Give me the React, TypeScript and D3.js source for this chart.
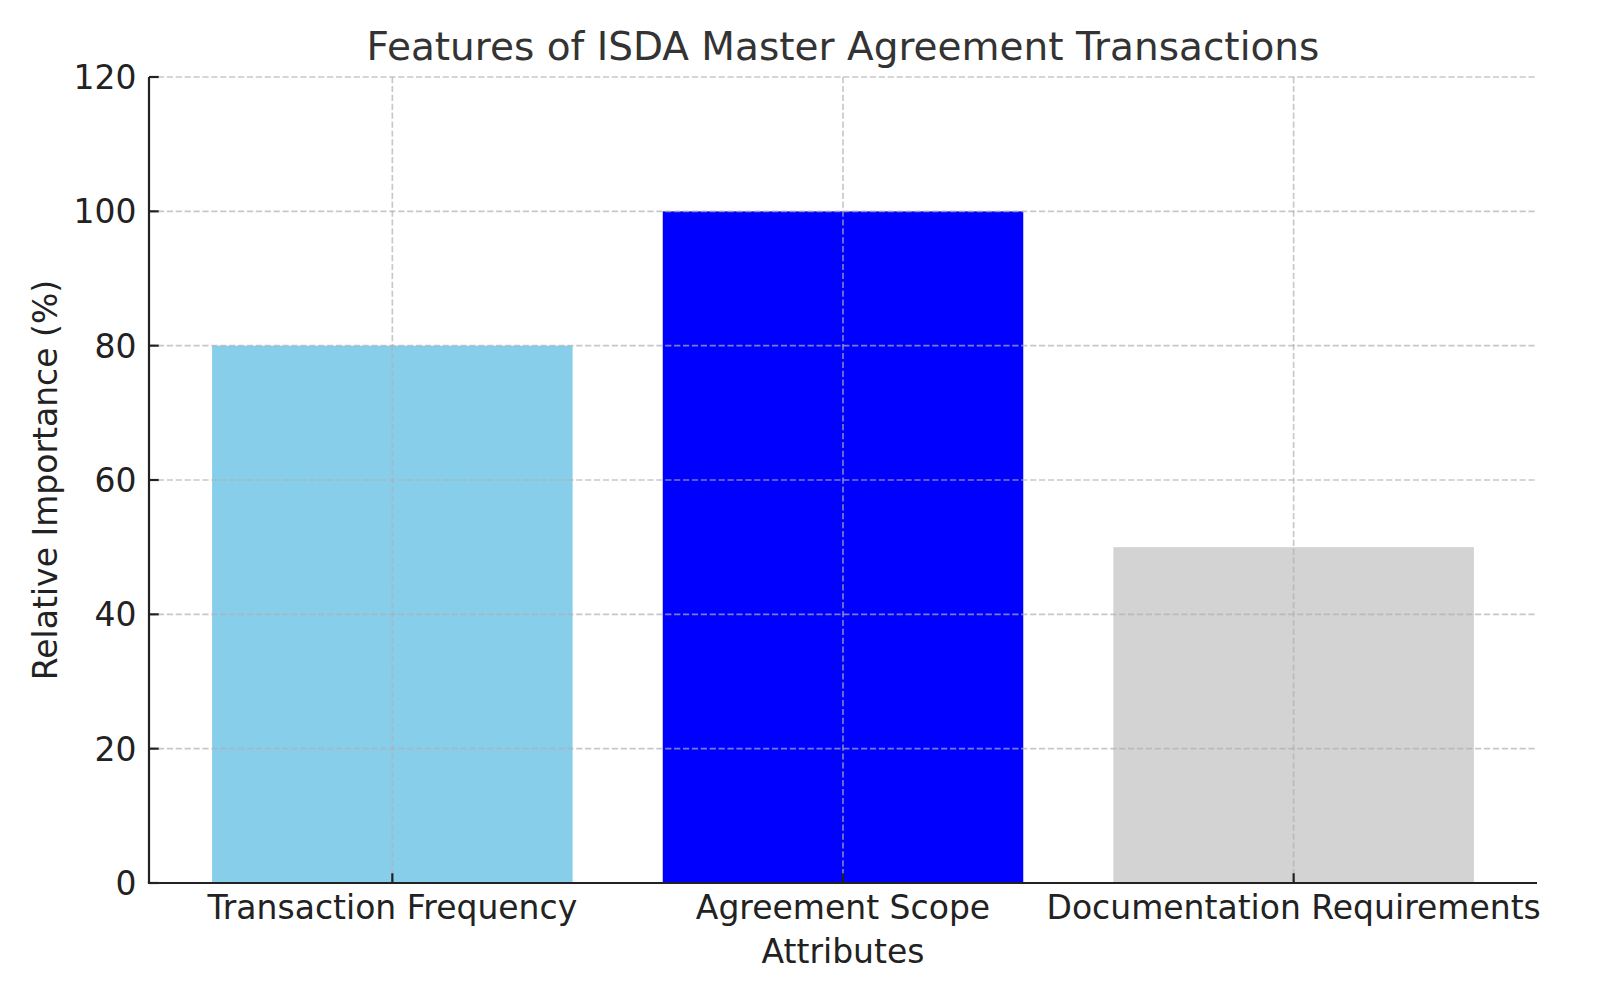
import * as d3 from "d3";
import React from "react";

const categories = ["Transaction Frequency", "Agreement Scope", "Documentation Requirements"];
const importance = [80, 100, 50];
const barColors = ["#87CEEB", "#0000FF", "#D3D3D3"];
const yTicks = [0, 20, 40, 60, 80, 100, 120];

const width = 1600;
const height = 1000;
const margin = { top: 77, right: 63, bottom: 117, left: 149 };

export default function App() {
  const innerW = width - margin.left - margin.right;
  const innerH = height - margin.top - margin.bottom;

  // matplotlib-like categorical axis: bar width 0.8, 5% margins
  const x = d3.scaleLinear().domain([-0.54, categories.length - 1 + 0.54]).range([0, innerW]);
  const y = d3.scaleLinear().domain([0, 120]).range([innerH, 0]);
  const barW = x(0.8) - x(0);

  const gridStyle = {
    stroke: "#b0b0b0",
    strokeOpacity: 0.7,
    strokeWidth: 1.67,
    strokeDasharray: "6.2,2.7",
  };
  const font = "'DejaVu Sans', sans-serif";

  return (
    <svg
      width={width}
      height={height}
      style={{ position: "absolute", left: 0, top: 0, background: "#fff" }}
      fontFamily={font}
    >
      <text x={margin.left + innerW / 2} y={60} textAnchor="middle" fontSize={39} fill="#333">
        Features of ISDA Master Agreement Transactions
      </text>
      <g transform={`translate(${margin.left},${margin.top})`}>
        {/* Bars */}
        {importance.map((v, i) => (
          <rect
            key={categories[i]}
            x={x(i) - barW / 2}
            y={y(v)}
            width={barW}
            height={y(0) - y(v)}
            fill={barColors[i]}
          />
        ))}

        {/* Grid, drawn over bars */}
        {yTicks.map((t) => (
          <line key={"gy" + t} x1={0} x2={innerW} y1={y(t)} y2={y(t)} {...gridStyle} />
        ))}
        {categories.map((c, i) => (
          <line key={"gx" + c} x1={x(i)} x2={x(i)} y1={0} y2={innerH} {...gridStyle} />
        ))}

        {/* Y axis */}
        <line x1={0} x2={0} y1={0} y2={innerH} stroke="#222" strokeWidth={2.2} />
        {yTicks.map((t) => (
          <g key={"yt" + t}>
            <line x1={0} x2={9.7} y1={y(t)} y2={y(t)} stroke="#222" strokeWidth={2.2} />
            <text x={-12.5} y={y(t)} dy="0.36em" textAnchor="end" fontSize={33} fill="#222">
              {t}
            </text>
          </g>
        ))}

        {/* X axis */}
        <line x1={-1.1} x2={innerW} y1={innerH} y2={innerH} stroke="#222" strokeWidth={2.2} />
        {categories.map((c, i) => (
          <g key={"xt" + c}>
            <line x1={x(i)} x2={x(i)} y1={innerH} y2={innerH - 9.7} stroke="#222" strokeWidth={2.2} />
            <text x={x(i)} y={innerH + 35.5} textAnchor="middle" fontSize={33} fill="#222">
              {c}
            </text>
          </g>
        ))}

        <text x={innerW / 2} y={innerH + 80.3} textAnchor="middle" fontSize={33} fill="#222">
          Attributes
        </text>
        <text
          transform={`translate(${57 - margin.left},${innerH / 2}) rotate(-90)`}
          textAnchor="middle"
          fontSize={33}
          fill="#222"
        >
          Relative Importance (%)
        </text>
      </g>
    </svg>
  );
}
